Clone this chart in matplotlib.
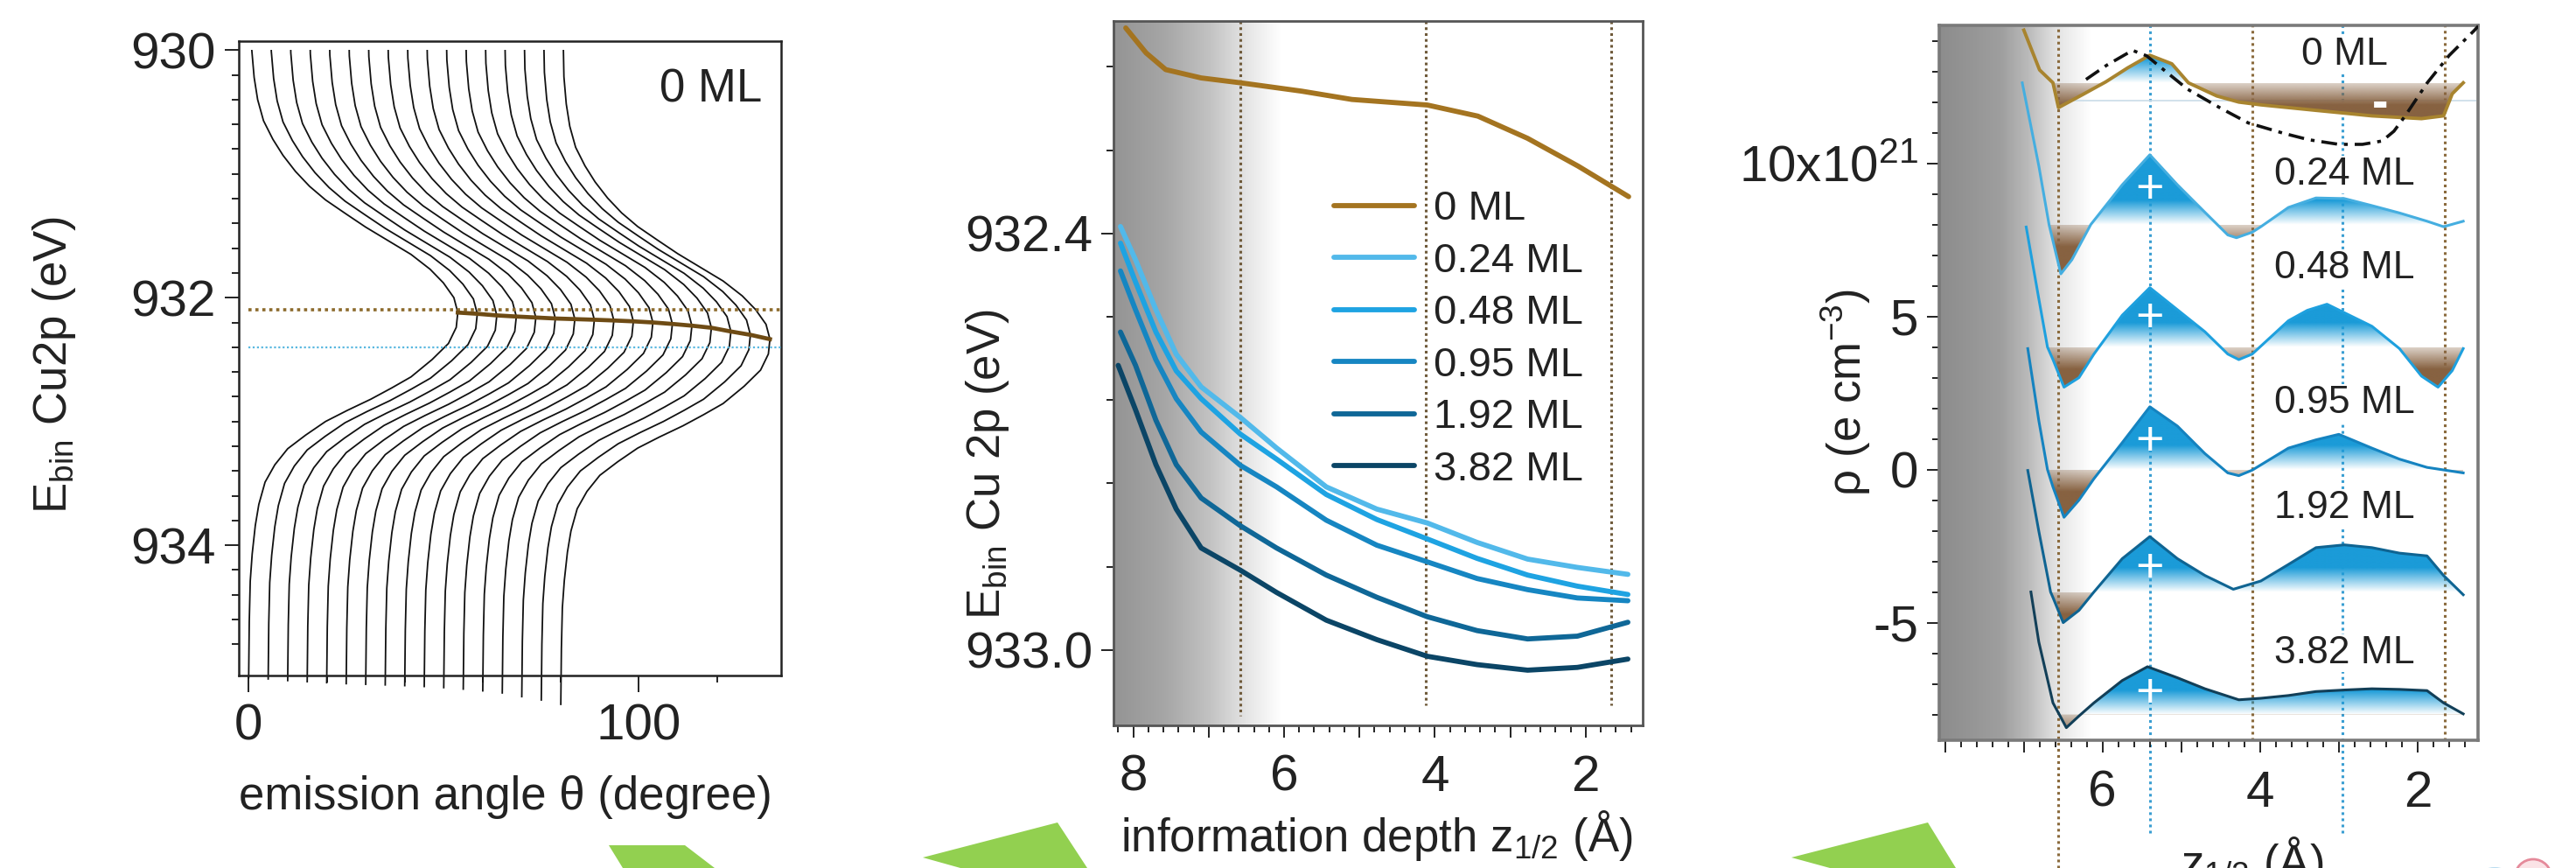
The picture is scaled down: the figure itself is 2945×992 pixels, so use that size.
import numpy as np
import matplotlib.pyplot as plt
from matplotlib.patches import Polygon, Rectangle, Ellipse
from matplotlib.colors import LinearSegmentedColormap, to_rgb

plt.rcParams['font.family'] = ['Liberation Sans', 'DejaVu Sans']
plt.rcParams['mathtext.fontset'] = 'custom'
plt.rcParams['mathtext.rm'] = 'Liberation Sans'
plt.rcParams['mathtext.it'] = 'Liberation Sans:italic'
plt.rcParams['mathtext.bf'] = 'Liberation Sans:bold'
plt.rcParams['text.color'] = '#222222'
plt.rcParams['xtick.color'] = '#222222'
plt.rcParams['ytick.color'] = '#222222'

W, H = 2945, 992

# ---------------- left panel: Cu 2p line for each emission angle
angles = [0, 5, 10, 15, 20, 25, 30, 35, 40, 45, 50, 55, 60, 65, 70, 75, 80]
peak_E = [932.120, 932.130, 932.143, 932.152, 932.160, 932.168, 932.173, 932.178,
          932.184, 932.191, 932.200, 932.212, 932.226, 932.243, 932.273, 932.300, 932.335]
line_dE = [-2.45, -2.12, -1.90, -1.72, -1.55, -1.40, -1.27, -1.14, -1.02, -0.91, -0.80,
           -0.69, -0.58, -0.47, -0.35, -0.24, -0.12, 0.00, 0.12, 0.25, 0.38, 0.52, 0.61,
           0.70, 0.79, 0.88, 0.99, 1.10, 1.23, 1.37, 1.55, 1.72, 1.95, 2.17, 2.50, 2.95]
line_I = [0.6, 0.8, 1.4, 2.3, 3.8, 6.2, 8.8, 12.0, 15.6, 19.7, 24.8, 30.0, 35.8, 41.6,
          46.5, 49.9, 52.6, 53.6, 53.2, 51.2, 47.0, 41.6, 36.6, 31.3, 25.3, 19.7, 14.6,
          10.0, 6.7, 4.2, 2.6, 1.7, 0.9, 0.4, 0.15, 0.0]
ref_E_brown = 932.10
ref_E_blue = 932.40

# ---------------- middle panel: E_bin vs information depth
cov_labels = ['0 ML', '0.24 ML', '0.48 ML', '0.95 ML', '1.92 ML', '3.82 ML']
cov_colors = ['#a47420', '#52b9ea', '#1ea3e2', '#1686c2', '#0f6797', '#0b4566']

depth_0 = [8.10, 7.83, 7.57, 7.10, 6.58, 5.77, 5.10, 4.10, 3.43, 2.77, 2.10, 1.43]
ebin_0 = [932.104, 932.140, 932.164, 932.176, 932.183, 932.195, 932.207, 932.215,
          932.231, 932.263, 932.303, 932.347]
depth_ml = [8.17, 7.97, 7.70, 7.43, 7.10, 6.58, 6.10, 5.44, 4.77, 4.10, 3.44, 2.77, 2.11, 1.44]
depth_382 = [8.20, 7.97, 7.70, 7.43, 7.10, 6.58, 6.10, 5.44, 4.77, 4.10, 3.44, 2.77, 2.11, 1.44]
ebin_024 = [932.390, 932.438, 932.510, 932.574, 932.621, 932.665, 932.709, 932.765,
            932.797, 932.817, 932.845, 932.869, 932.881, 932.891]
ebin_048 = [932.414, 932.470, 932.542, 932.598, 932.638, 932.689, 932.725, 932.776,
            932.812, 932.840, 932.868, 932.892, 932.908, 932.920]
ebin_095 = [932.454, 932.510, 932.582, 932.638, 932.686, 932.734, 932.765, 932.813,
            932.849, 932.873, 932.897, 932.913, 932.925, 932.929]
ebin_192 = [932.542, 932.590, 932.669, 932.733, 932.781, 932.821, 932.853, 932.892,
            932.924, 932.952, 932.972, 932.984, 932.980, 932.960]
ebin_382 = [932.590, 932.654, 932.733, 932.797, 932.853, 932.885, 932.917, 932.957,
            932.985, 933.009, 933.021, 933.029, 933.025, 933.013]
mid_marks = [6.58, 4.12, 1.66]

# ---------------- right panel: charge density profiles, stacked
z_0 = [7.00, 6.80, 6.63, 6.56, 6.25, 5.96, 5.68, 5.40, 5.12, 4.91, 4.55, 4.27, 3.99,
       3.64, 3.29, 2.93, 2.58, 2.23, 1.95, 1.67, 1.56, 1.42]
rho_0 = [14.35, 13.05, 12.63, 11.82, 12.25, 12.66, 13.12, 13.53, 13.25, 12.63, 12.20,
         12.00, 11.91, 11.82, 11.73, 11.64, 11.55, 11.50, 11.46, 11.55, 12.27, 12.63]
z_024 = [7.02, 6.81, 6.68, 6.53, 6.39, 6.15, 5.75, 5.40, 5.05, 4.70, 4.41, 4.30, 4.10,
         3.99, 3.64, 3.29, 2.93, 2.58, 2.23, 1.88, 1.67, 1.42]
rho_024 = [12.63, 9.92, 8.00, 6.39, 6.85, 8.00, 9.30, 10.28, 9.30, 8.40, 7.66, 7.57,
           7.75, 7.93, 8.56, 8.87, 8.85, 8.62, 8.38, 8.11, 7.93, 8.11]
z_048 = [6.97, 6.81, 6.70, 6.63, 6.49, 6.30, 6.11, 5.75, 5.40, 5.05, 4.70, 4.41, 4.27,
         4.10, 3.64, 3.40, 3.15, 2.58, 2.23, 1.95, 1.74, 1.56, 1.42]
rho_048 = [7.92, 5.58, 4.00, 3.59, 2.69, 3.00, 3.77, 5.04, 5.94, 5.22, 4.50, 3.77, 3.59,
           3.77, 4.86, 5.20, 5.40, 4.68, 3.95, 3.05, 2.69, 3.23, 3.95]
z_095 = [6.95, 6.81, 6.70, 6.63, 6.49, 6.30, 6.11, 5.75, 5.40, 5.05, 4.70, 4.41, 4.27,
         4.10, 3.64, 3.29, 3.00, 2.58, 2.23, 1.88, 1.42]
rho_095 = [3.95, 1.60, 0.00, -0.57, -1.56, -1.00, -0.30, 0.88, 2.05, 1.42, 0.52, -0.11,
           -0.20, -0.02, 0.70, 0.97, 1.15, 0.70, 0.34, 0.07, -0.11]
z_192 = [6.95, 6.81, 6.66, 6.63, 6.50, 6.30, 6.11, 5.75, 5.40, 5.05, 4.70, 4.34, 3.99,
         3.64, 3.29, 2.93, 2.58, 2.23, 1.88, 1.67, 1.42]
rho_192 = [-0.03, -2.01, -4.00, -4.18, -5.00, -4.60, -4.00, -2.91, -2.19, -2.91, -3.46,
           -3.91, -3.64, -3.10, -2.55, -2.46, -2.55, -2.73, -2.82, -3.46, -4.09]
z_382 = [6.91, 6.81, 6.63, 6.55, 6.46, 6.30, 6.11, 5.75, 5.43, 5.05, 4.70, 4.27, 3.99,
         3.64, 3.29, 2.93, 2.58, 2.23, 1.88, 1.67, 1.42]
rho_382 = [-4.00, -5.63, -7.62, -8.00, -8.43, -8.05, -7.62, -6.89, -6.44, -6.80, -7.16,
           -7.52, -7.47, -7.38, -7.25, -7.20, -7.16, -7.18, -7.22, -7.62, -7.98]
rho_base = [12.63, 8.0, 4.0, 0.0, -4.0, -8.0]
rho_fill_start = [2, 2, 2, 2, 2, 3]
rho_label_y = [13.55, 9.64, 6.57, 2.17, -1.26, -6.0]
plus_y = [9.10, 4.89, 0.87, -3.28, -7.35]

# calculated reference profile (dash-dot)
z_calc = [6.21, 5.95, 5.62, 5.44, 5.15, 4.92, 4.50, 4.15, 3.70, 3.38, 3.00, 2.70, 2.45,
          2.30, 2.16, 1.88, 1.60, 1.28, 1.18]
rho_calc = [12.74, 13.20, 13.69, 13.51, 12.90, 12.42, 11.80, 11.32, 10.98, 10.77, 10.62,
            10.62, 10.73, 11.05, 11.54, 12.62, 13.52, 14.34, 14.62]
brown_marks = [6.56, 4.10, 1.65]
blue_marks = [5.40, 2.95]

fig = plt.figure(figsize=(W / 100, H / 100), dpi=100)


def box(x0, y0, x1, y1):
    return [x0 / W, 1 - y1 / H, (x1 - x0) / W, (y1 - y0) / H]


def fpos(x, y):
    return (x / W, 1 - y / H)


def gray_cmap(stops_z, levels):
    span = stops_z[0] - stops_z[-1]
    pts = [((stops_z[0] - z) / span, (g, g, g)) for z, g in zip(stops_z, levels)]
    return LinearSegmentedColormap.from_list('fade', pts)


ax1 = fig.add_axes(box(272.7, 47.4, 892.7, 771.7))
ax2 = fig.add_axes(box(1272.7, 24.0, 1878.3, 828.6))
ax3 = fig.add_axes(box(2216.5, 28.5, 2833.2, 846.3))

# ---- left
dE = np.array(line_dE)
I = np.array(line_I)
for a, pe in zip(angles, peak_E):
    ln, = ax1.plot(a + I, pe + dE, color='#111111', lw=1.3, zorder=2)
    ln.set_clip_path(Rectangle((-5, 930.0), 150, 5.3, transform=ax1.transData))
ax1.hlines(ref_E_brown, 0, 136.4, colors='#8c6a2c', linestyles=(0, (1, 1.2)), lw=2.6, zorder=3)
ax1.hlines(ref_E_blue, 0, 136.4, colors='#5ab8e0', linestyles=(0, (1, 1.2)), lw=1.6, zorder=3)
ax1.plot(np.array(angles) + max(line_I), peak_E, color='#6e4b14', lw=3.4, zorder=4)
ax1.text(131.5, 930.32, '0 ML', ha='right', va='center', fontsize=38)
ax1.set_xlim(-2.6, 136.4)
ax1.set_ylim(935.05, 929.93)
ax1.set_xticks([0, 100])
ax1.set_xticks([20, 40, 60, 80, 120], minor=True)
ax1.set_yticks([930, 932, 934])
ax1.set_yticks(np.arange(930.2, 935.0, 0.2), minor=True)
for s in ax1.spines.values():
    s.set_linewidth(1.8)
    s.set_color('#222222')

# ---- middle
g2 = gray_cmap([8.266, 7.6, 7.0, 6.5, 6.05], [0.58, 0.65, 0.76, 0.90, 1.0])
ax2.imshow(np.linspace(0, 1, 256)[None, :], cmap=g2, aspect='auto', zorder=0,
           extent=(8.266, 6.05, 933.108, 932.094), interpolation='bilinear')
ax2.vlines(mid_marks[0], 932.094, 933.095, colors='#6f5a3a', linestyles=(0, (1, 1.2)), lw=2.2, zorder=1)
ax2.vlines(mid_marks[1:], 932.094, 933.08, colors='#6f5a3a', linestyles=(0, (1, 1.2)), lw=2.2, zorder=1)
mid_series = [(depth_0, ebin_0), (depth_ml, ebin_024), (depth_ml, ebin_048),
              (depth_ml, ebin_095), (depth_ml, ebin_192), (depth_382, ebin_382)]
for (zz, ee), lab, col in zip(mid_series, cov_labels, cov_colors):
    ax2.plot(zz, ee, color=col, lw=4.2, label=lab, solid_capstyle='round', zorder=3)
ax2.legend(loc='upper left', bbox_to_anchor=(0.417, 0.76), frameon=False, fontsize=34,
           handlelength=1.95, handletextpad=0.45, labelspacing=0.33, borderpad=0,
           borderaxespad=0)
ax2.set_xlim(8.266, 1.24)
ax2.set_ylim(933.108, 932.094)
ax2.set_xticks([2, 3, 4, 5, 6, 7, 8])
ax2.set_xticklabels(['2', '', '4', '', '6', '', '8'])
ax2.set_xticks(np.arange(1.4, 8.3, 0.2), minor=True)
ax2.set_yticks([932.4, 933.0])
ax2.set_yticklabels(['932.4', '933.0'])
ax2.set_yticks([932.16, 932.28, 932.52, 932.64, 932.76, 932.88], minor=True)
for s in ax2.spines.values():
    s.set_linewidth(2.0)
    s.set_color('#555555')

# ---- right
g3 = gray_cmap([8.08, 7.3, 6.95, 6.6, 6.15], [0.55, 0.62, 0.73, 0.89, 1.0])
ax3.imshow(np.linspace(0, 1, 256)[None, :], cmap=g3, aspect='auto', zorder=0,
           extent=(8.08, 6.15, -8.85, 14.52), interpolation='bilinear')
for zc in brown_marks:
    lo = -0.178 if zc == brown_marks[0] else 0
    ax3.axvline(zc, ymin=lo, ymax=1, color='#8a6a3c', ls=(0, (1, 1.3)), lw=2.2,
                zorder=1, clip_on=False)
for zc in blue_marks:
    ax3.axvline(zc, ymin=-0.129, ymax=1, color='#3a9ed2', ls=(0, (1, 1.3)), lw=2.2,
                zorder=1, clip_on=False)
ax3.hlines(12.05, 6.5, 1.25, colors='#c9dce8', lw=1.2, zorder=1.2)

blue_rgb = to_rgb('#1b9bd8')
brown_rgb = to_rgb('#876241')
rows = np.linspace(1, 0, 200)


def graded_fill(ax, z, v, base, k):
    zz = np.array(z[k:])
    vv = np.array(v[k:])
    outline = np.column_stack([np.r_[zz, zz[::-1]], np.r_[vv, np.full(len(zz), base)]])
    up = np.zeros((len(rows), 1, 4))
    up[:, 0, :3] = blue_rgb
    up[:, 0, 3] = np.clip(rows * 4.0 / 0.8, 0, 1)
    dn = np.zeros((len(rows), 1, 4))
    dn[:, 0, :3] = brown_rgb
    dn[:, 0, 3] = np.clip(0.3 + (1 - rows) * 3.0 / 1.0, 0, 1)
    for img, ext in ((up, (zz.max(), zz.min(), base, base + 4.0)),
                     (dn, (zz.max(), zz.min(), base - 3.0, base))):
        im = ax.imshow(img, extent=ext, aspect='auto', zorder=2, interpolation='bilinear')
        im.set_clip_path(Polygon(outline, closed=True, transform=ax.transData))


right_series = [(z_0, rho_0), (z_024, rho_024), (z_048, rho_048),
                (z_095, rho_095), (z_192, rho_192), (z_382, rho_382)]
right_colors = ['#a8842f', '#45aee0', '#1ea0de', '#1583c0', '#0f6492', '#123f58']
for (zz, rr), base, k, col in zip(right_series, rho_base, rho_fill_start, right_colors):
    graded_fill(ax3, zz, rr, base, k)
    ax3.plot(zz, rr, color=col, lw=2.2 if col != right_colors[0] else 2.8, zorder=3)

ax3.plot(z_calc, rho_calc, color='#111111', lw=2.6, ls=(0, (5, 2.2, 1.2, 2.2)), zorder=4)

for lab, yl in zip(cov_labels, rho_label_y):
    ax3.text(2.93, yl, lab, ha='center', va='center', fontsize=32, zorder=5,
             bbox=dict(fc='white', ec='none', pad=0.5))
for yp in plus_y:
    ax3.text(blue_marks[0], yp, '+', ha='center', va='center', fontsize=40,
             color='white', zorder=5)
ax3.text(2.48, 11.90, '-', ha='center', va='center', fontsize=40, fontweight='bold',
         color='white', zorder=5)

ax3.set_xlim(8.08, 1.23)
ax3.set_ylim(-8.85, 14.52)
ax3.set_xticks([2, 3, 4, 5, 6, 7, 8])
ax3.set_xticklabels(['2', '', '4', '', '6', '', ''])
ax3.set_xticks(np.arange(1.4, 8.1, 0.2), minor=True)
ax3.set_yticks([-5, 0, 5, 10])
ax3.set_yticklabels(['-5', '0', '5', r'10x10$^{21}$'])
ax3.set_yticks(np.arange(-8, 15, 1), minor=True)
for s in ax3.spines.values():
    s.set_linewidth(2.6)
    s.set_color('#7a7a7a')

for ax in (ax1, ax2, ax3):
    ax.tick_params(which='both', direction='out', width=1.4, labelsize=42)
    ax.tick_params(which='major', length=10)
    ax.tick_params(which='minor', length=5.5)
    ax.tick_params(axis='y', pad=7)
ax1.tick_params(axis='y', which='major', length=11.5)
ax1.tick_params(axis='x', which='major', length=14, pad=9)
ax2.tick_params(axis='x', pad=14)
ax3.tick_params(axis='x', pad=14)

# axis titles
fig.text(*fpos(62, 417), r'E$_{\mathrm{bin}}$ Cu2p (eV)', rotation=90, ha='center',
         va='center', fontsize=38)
fig.text(*fpos(578, 911), 'emission angle θ (degree)', ha='center', va='center', fontsize=38)
fig.text(*fpos(1129, 531), r'E$_{\mathrm{bin}}$ Cu 2p (eV)', rotation=90, ha='center',
         va='center', fontsize=38)
fig.text(*fpos(1574, 955), r'information depth z$_{1/2}$ (Å)', ha='center', va='center',
         fontsize=38)
fig.text(*fpos(2110, 449), r'ρ (e cm$^{-3}$)', rotation=90, ha='center', va='center',
         fontsize=38)
fig.text(*fpos(2575, 1003), r'z$_{1/2}$ (Å)', ha='center', va='baseline', fontsize=38)

# green arrows along the lower edge
green = '#92d050'
for pts in ([(696, 966), (783, 966), (817, 992), (712, 992)],
            [(1055, 980), (1209, 940), (1243, 992), (1098, 992)],
            [(2048, 980), (2204, 940), (2236, 992), (2092, 992)]):
    fig.add_artist(Polygon([fpos(x, y) for x, y in pts], closed=True, fc=green, ec='none',
                           transform=fig.transFigure))
fig.add_artist(Ellipse(fpos(2852, 998), 30 / W, 14 / H, fc='#b9dcf0', ec='none',
                       transform=fig.transFigure))
fig.add_artist(Ellipse(fpos(2896, 1003), 42 / W, 42 / H, fc='#fbe3e6', ec='#e58a9a', lw=2,
                       transform=fig.transFigure))

fig.savefig('out.png', dpi=100)
